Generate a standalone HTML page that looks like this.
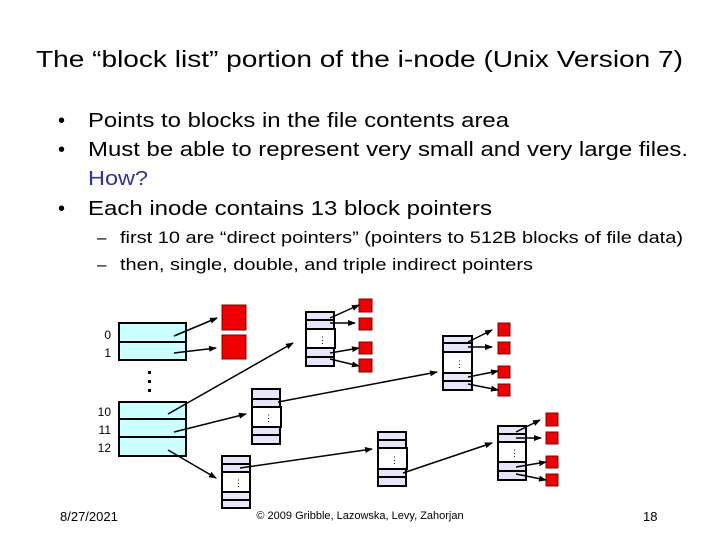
<!DOCTYPE html>
<html><head><meta charset="utf-8"><style>
html,body{margin:0;padding:0;background:#fff}
svg{display:block;font-family:"Liberation Sans",Arial,sans-serif}
</style></head><body>
<svg width="720" height="540" viewBox="0 0 720 540" xmlns="http://www.w3.org/2000/svg">
<defs><marker id="a" markerWidth="8" markerHeight="8" refX="7" refY="4" orient="auto" markerUnits="userSpaceOnUse"><path d="M0,1 L8,4 L0,7 z" fill="#000"/></marker></defs>
<text x="36" y="67" font-size="23" textLength="647" lengthAdjust="spacingAndGlyphs">The “block list” portion of the i-node (Unix Version 7)</text>
<g font-size="20">
<text x="58" y="127">•</text><text x="88" y="127" textLength="421" lengthAdjust="spacingAndGlyphs">Points to blocks in the file contents area</text>
<text x="58" y="156">•</text><text x="88" y="156" textLength="600" lengthAdjust="spacingAndGlyphs">Must be able to represent very small and very large files.</text>
<text x="88" y="185" fill="#333399" textLength="60" lengthAdjust="spacingAndGlyphs">How?</text>
<text x="58" y="215">•</text><text x="88" y="215" textLength="404" lengthAdjust="spacingAndGlyphs">Each inode contains 13 block pointers</text>
</g>
<g font-size="17">
<text x="97" y="243">–</text><text x="120" y="243" textLength="563" lengthAdjust="spacingAndGlyphs">first 10 are “direct pointers” (pointers to 512B blocks of file data)</text>
<text x="97" y="270">–</text><text x="120" y="270" textLength="413" lengthAdjust="spacingAndGlyphs">then, single, double, and triple indirect pointers</text>
</g>
<g font-size="12">
<text x="111" y="339" text-anchor="end">0</text><text x="111" y="357" text-anchor="end">1</text>
<text x="111" y="416" text-anchor="end">10</text><text x="111" y="434" text-anchor="end">11</text><text x="111" y="452" text-anchor="end">12</text>
</g>
<g stroke="#000" stroke-width="2" fill="#cff">
<rect x="119" y="323" width="67" height="37"/><line x1="119" y1="342" x2="186" y2="342"/>
<rect x="119" y="402" width="67" height="54"/><line x1="119" y1="419" x2="186" y2="419"/><line x1="119" y1="437" x2="186" y2="437"/>
</g>
<g fill="#000"><rect x="148" y="371" width="3" height="3"/><rect x="148" y="380" width="3" height="3"/><rect x="148" y="389" width="3" height="3"/></g>
<g fill="#e00" stroke="#800" stroke-width="1">
<rect x="222" y="305" width="24" height="25"/><rect x="222" y="335" width="24" height="24"/>
<rect x="359" y="299" width="13" height="13"/><rect x="359" y="318" width="13" height="12"/><rect x="359" y="342" width="13" height="12"/><rect x="359" y="359" width="13" height="13"/>
<rect x="498" y="323" width="12" height="13"/><rect x="498" y="342" width="12" height="12"/><rect x="498" y="366" width="12" height="12"/><rect x="498" y="384" width="12" height="12"/>
<rect x="546" y="413" width="12" height="13"/><rect x="546" y="432" width="12" height="12"/><rect x="546" y="456" width="12" height="12"/><rect x="546" y="474" width="12" height="12"/>
</g>
<g stroke="#000" stroke-width="2" fill="#e6e6f8">
<!-- A -->
<rect x="306" y="312" width="28" height="54"/><rect x="306" y="329" width="29" height="19" fill="#fff"/><line x1="306" y1="320" x2="334" y2="320"/><line x1="306" y1="357" x2="334" y2="357"/>
<!-- B -->
<rect x="252" y="389" width="28" height="55"/><rect x="252" y="407" width="29" height="20" fill="#fff"/><line x1="252" y1="399" x2="280" y2="399"/><line x1="252" y1="435" x2="280" y2="435"/>
<!-- C -->
<rect x="222" y="456" width="28" height="52"/><rect x="222" y="472" width="28" height="20" fill="#fff"/><line x1="222" y1="464" x2="250" y2="464"/><line x1="222" y1="500" x2="250" y2="500"/>
<!-- D -->
<rect x="443" y="336" width="29" height="54"/><rect x="443" y="352" width="29" height="21" fill="#fff"/><line x1="443" y1="343" x2="472" y2="343"/><line x1="443" y1="381" x2="472" y2="381"/>
<!-- E -->
<rect x="378" y="432" width="28" height="54"/><rect x="378" y="448" width="29" height="21" fill="#fff"/><line x1="378" y1="440" x2="406" y2="440"/><line x1="378" y1="477" x2="406" y2="477"/>
<!-- F -->
<rect x="498" y="426" width="28" height="54"/><rect x="498" y="442" width="28" height="20" fill="#fff"/><line x1="498" y1="434" x2="526" y2="434"/><line x1="498" y1="471" x2="526" y2="471"/>
</g>
<g font-size="9" fill="#000">
<text x="318" y="343">⋮</text><text x="264" y="421">⋮</text><text x="234" y="486">⋮</text><text x="455" y="367">⋮</text><text x="390" y="463">⋮</text><text x="510" y="456">⋮</text>
</g>
<g stroke="#000" stroke-width="1.5" marker-end="url(#a)">
<line x1="174" y1="336" x2="217" y2="318"/><line x1="174" y1="353" x2="216" y2="348"/>
<line x1="168" y1="414" x2="293" y2="343"/><line x1="174" y1="432" x2="246" y2="414"/><line x1="168" y1="450" x2="216" y2="478"/>
<line x1="330" y1="318" x2="359" y2="305"/><line x1="330" y1="323" x2="355" y2="323"/><line x1="330" y1="353" x2="359" y2="348"/><line x1="330" y1="359" x2="359" y2="366"/>
<line x1="278" y1="402" x2="437" y2="372"/><line x1="240" y1="468" x2="372" y2="449"/><line x1="403" y1="473" x2="492" y2="443"/>
<line x1="468" y1="342" x2="492" y2="330"/><line x1="468" y1="347" x2="492" y2="347"/><line x1="468" y1="377" x2="498" y2="371"/><line x1="468" y1="384" x2="498" y2="390"/>
<line x1="516" y1="432" x2="540" y2="420"/><line x1="516" y1="438" x2="541" y2="438"/><line x1="516" y1="467" x2="546" y2="462"/><line x1="516" y1="474" x2="546" y2="480"/>
</g>
<text x="60" y="521" font-size="13">8/27/2021</text>
<text x="360" y="519" font-size="11" text-anchor="middle">© 2009 Gribble, Lazowska, Levy, Zahorjan</text>
<text x="643" y="521" font-size="13">18</text>
</svg>
</body></html>
